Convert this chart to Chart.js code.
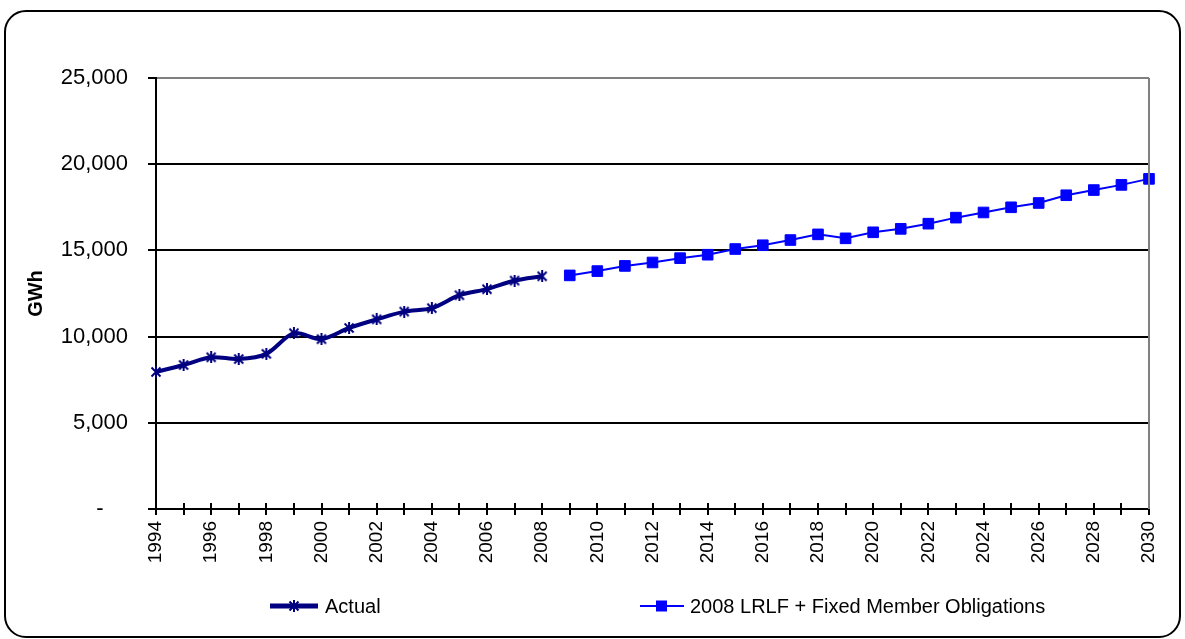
<!DOCTYPE html>
<html>
<head>
<meta charset="utf-8">
<script src="https://cdn.jsdelivr.net/npm/chart.js@4.4.1/dist/chart.umd.min.js"></script>
<style>
  html, body { margin: 0; padding: 0; background: #ffffff; }
  #wrap { position: relative; width: 1185px; height: 639px; overflow: hidden; }
  #frame {
    position: absolute; left: 4px; top: 10px; width: 1177px; height: 628px;
    border: 2px solid #000; border-radius: 22px; box-sizing: border-box;
  }
  canvas { position: absolute; left: 0; top: 0; }
</style>
</head>
<body>
<div id="wrap">
  <div id="frame"></div>
  <canvas id="c" width="1185" height="639"></canvas>
</div>
<script>
// Years on the horizontal axis
const years = [];
for (let y = 1994; y <= 2030; y++) years.push(String(y));

// Historical energy (GWh), 1994-2008
const actual = [7950, 8350, 8800, 8700, 9000, 10200, 9850, 10500, 11000, 11450,
                11650, 12400, 12750, 13250, 13500];

// Forecast energy (GWh), 2009-2030
const forecast = [13550, 13800, 14100, 14300, 14550, 14750, 15080, 15300, 15600, 15930,
                  15700, 16050, 16250, 16550, 16900, 17200, 17500, 17750, 18200, 18500,
                  18800, 19150];

const yTicks = [0, 5000, 10000, 15000, 20000, 25000];

const actualLabel = 'Actual';
const forecastLabel = '2008 LRLF + Fixed Member Obligations';
const yTitle = 'GWh';

const NAVY = '#000080';
const BLUE = '#0000ff';
const FONT = '"Liberation Sans", Arial, sans-serif';

// Pad each series out to the full year range
const actualData = years.map((_, i) => (i < actual.length ? actual[i] : null));
const forecastData = years.map((_, i) => {
  const k = i - actual.length;
  return k >= 0 && k < forecast.length ? forecast[k] : null;
});

// Asterisk marker (x plus vertical stroke)
function makeAsterisk(size, color, lw) {
  const cv = document.createElement('canvas');
  cv.width = size; cv.height = size;
  const g = cv.getContext('2d');
  g.strokeStyle = color; g.lineWidth = lw; g.lineCap = 'butt';
  const m = lw / 2 + 0.5, s = size - m;
  g.beginPath();
  g.moveTo(m, m); g.lineTo(s, s);
  g.moveTo(s, m); g.lineTo(m, s);
  g.moveTo(size / 2, 0); g.lineTo(size / 2, size);
  g.stroke();
  return cv;
}
const starMark = makeAsterisk(12, NAVY, 2);

// Tick marks that cross the category axis, plus the grey right-hand frame line
const axisExtras = {
  id: 'axisExtras',
  afterDraw(chart) {
    const { ctx, chartArea } = chart;
    const xs = chart.scales.x;
    ctx.save();
    ctx.strokeStyle = '#000'; ctx.lineWidth = 2;
    for (let i = 0; i < years.length; i++) {
      const x = Math.round(xs.getPixelForValue(i));
      ctx.beginPath();
      ctx.moveTo(x, chartArea.bottom - 6);
      ctx.lineTo(x, chartArea.bottom);
      ctx.stroke();
    }
    ctx.strokeStyle = '#808080';
    ctx.beginPath();
    ctx.moveTo(chartArea.right, chartArea.top);
    ctx.lineTo(chartArea.right, chartArea.bottom);
    ctx.stroke();
    ctx.restore();
  }
};

// Legend row at the bottom of the frame
const bottomLegend = {
  id: 'bottomLegend',
  afterDraw(chart) {
    const { ctx } = chart;
    const y = 606;
    const ds = chart.data.datasets;
    ctx.save();
    ctx.font = '20px ' + FONT;
    ctx.textBaseline = 'middle';
    ctx.fillStyle = '#000';

    // first entry
    ctx.strokeStyle = ds[0].borderColor; ctx.lineWidth = 5;
    ctx.beginPath(); ctx.moveTo(270, y); ctx.lineTo(318, y); ctx.stroke();
    ctx.drawImage(starMark, 294 - 6, y - 6);
    ctx.fillText(ds[0].label, 325, y + 1);

    // second entry
    ctx.strokeStyle = ds[1].borderColor; ctx.lineWidth = ds[1].borderWidth;
    ctx.beginPath(); ctx.moveTo(640, y); ctx.lineTo(684, y); ctx.stroke();
    ctx.fillStyle = ds[1].pointBackgroundColor;
    ctx.fillRect(656, y - 5.5, 11, 11);
    ctx.fillStyle = '#000';
    ctx.fillText(ds[1].label, 690, y + 1);
    ctx.restore();
  }
};

new Chart(document.getElementById('c'), {
  type: 'line',
  data: {
    labels: years,
    datasets: [
      {
        label: actualLabel,
        data: actualData,
        borderColor: NAVY,
        backgroundColor: NAVY,
        borderWidth: 4,
        tension: 0.3,
        pointStyle: starMark,
        pointRadius: 6,
        pointHoverRadius: 6,
        spanGaps: false
      },
      {
        label: forecastLabel,
        data: forecastData,
        borderColor: BLUE,
        backgroundColor: BLUE,
        pointBackgroundColor: BLUE,
        pointBorderColor: BLUE,
        borderWidth: 2,
        tension: 0,
        pointStyle: 'rect',
        pointRadius: 7.5,
        pointBorderWidth: 1,
        spanGaps: false
      }
    ]
  },
  options: {
    responsive: false,
    animation: false,
    devicePixelRatio: 1,
    layout: { padding: { left: 14, top: 78, right: 36, bottom: 0 } },
    plugins: {
      legend: { display: false },
      tooltip: { enabled: false },
      title: { display: false }
    },
    scales: {
      x: {
        type: 'category',
        offset: false,
        afterFit(scale) { scale.height = 130; },
        grid: {
          display: true,
          drawOnChartArea: false,
          drawTicks: true,
          tickLength: 6,
          color: '#000',
          tickColor: '#000',
          lineWidth: 2
        },
        border: { display: true, color: '#000', width: 2 },
        ticks: {
          autoSkip: false,
          minRotation: 90,
          maxRotation: 90,
          padding: 6,
          color: '#000',
          font: { family: FONT, size: 19 },
          callback(value, index) {
            return index % 2 === 0 ? this.getLabelForValue(value) : '';
          }
        }
      },
      y: {
        min: 0,
        max: 25000,
        afterFit(scale) { scale.width = 142; },
        afterBuildTicks(scale) { scale.ticks = yTicks.map(v => ({ value: v })); },
        grid: {
          color: (c) => (c.tick && c.tick.value === 25000 ? '#808080' : '#000'),
          tickColor: '#000',
          lineWidth: 2,
          tickLength: 8
        },
        border: { display: true, color: '#000', width: 2 },
        title: {
          display: true,
          text: yTitle,
          color: '#000',
          font: { family: FONT, size: 20, weight: 'bold' },
          padding: { top: 10, bottom: 0 }
        },
        ticks: {
          padding: 20,
          color: '#000',
          font: { family: FONT, size: 22 },
          callback(v) {
            return v === 0 ? '-    ' : v.toLocaleString('en-US');
          }
        }
      }
    }
  },
  plugins: [axisExtras, bottomLegend]
});
</script>
</body>
</html>
